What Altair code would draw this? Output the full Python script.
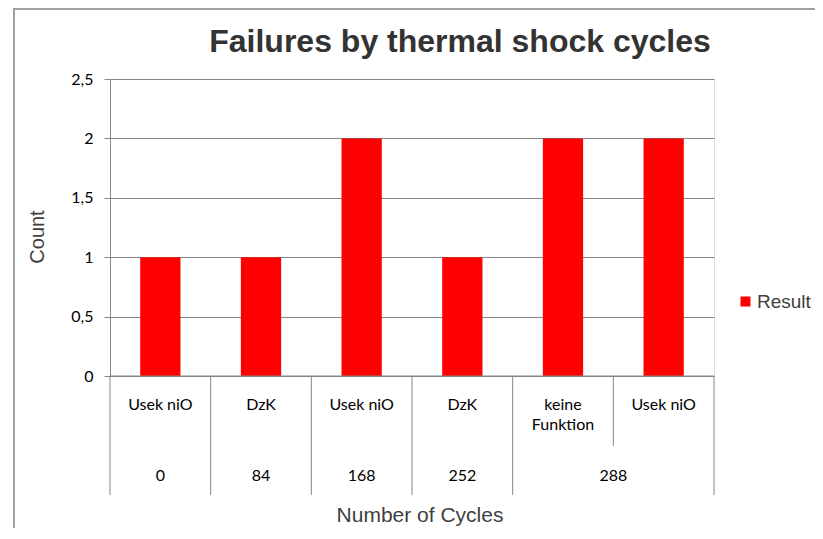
import altair as alt
import pandas as pd

# ---- data ----
failure_types = ["Usek niO", "DzK", "Usek niO", "DzK", "keine\nFunktion", "Usek niO"]
counts = [1, 1, 2, 1, 2, 2]
cycle_of_bar = ["0", "84", "168", "252", "288", "288"]
series_name = "Result"
title_text = "Failures by thermal shock cycles"
x_title = "Number of Cycles"
y_title = "Count"
y_ticks = [0, 0.5, 1, 1.5, 2, 2.5]

# ---- derived tables ----
n = len(counts)
bars = pd.DataFrame({
    "i": list(range(n)),
    "x0": [i + 0.3 for i in range(n)],
    "x1": [i + 0.7 for i in range(n)],
    "count": counts,
    "type": failure_types,
    "xc": [i + 0.5 for i in range(n)],
    "series": [series_name] * n,
})

# cycle groups
groups = []
for i, c in enumerate(cycle_of_bar):
    if groups and groups[-1]["label"] == c:
        groups[-1]["end"] = i + 1
    else:
        groups.append({"label": c, "start": i, "end": i + 1})
grp = pd.DataFrame({
    "label": [g["label"] for g in groups],
    "xc": [(g["start"] + g["end"]) / 2 for g in groups],
})
outer_b = sorted(set([g["start"] for g in groups] + [g["end"] for g in groups]))
all_b = list(range(n + 1))
inner_b = [b for b in all_b if b not in outer_b]
seps_outer = pd.DataFrame({"b": outer_b})
seps_inner = pd.DataFrame({"b": inner_b})

W, H = 604, 297
GRAY = "#868686"
LBL_FONT = "Lato"
LBL_SIZE = 16

xscale = alt.Scale(domain=[0, n], nice=False, zero=False)
yscale = alt.Scale(domain=[0, 2.5], nice=False)

base = alt.Chart(bars)

bar_layer = base.mark_rect(color="#FF0000").encode(
    x=alt.X("x0:Q", scale=xscale, axis=None),
    x2="x1:Q",
    y=alt.Y("count:Q", scale=yscale,
            axis=alt.Axis(values=y_ticks, title=None, grid=True, gridColor=GRAY,
                          domainColor=GRAY, tickColor=GRAY, tickSize=6,
                          labelPadding=11, labelFont=LBL_FONT, labelFontSize=LBL_SIZE,
                          labelColor="#000000",
                          labelExpr="replace(format(datum.value, '~g'), '.', ',')")),
    y2=alt.datum(0),
    color=alt.Color("series:N", scale=alt.Scale(range=["#FF0000"]),
                    legend=alt.Legend(title=None, orient="none", legendX=626, legendY=213,
                                      symbolType="square", symbolSize=100,
                                      symbolStrokeWidth=0, labelLimit=400,
                                      labelFont="Liberation Sans", labelFontSize=19,
                                      labelColor="#404040", labelOffset=2)),
)

xaxis_line = alt.Chart(pd.DataFrame({"a": [0], "b": [n]})).mark_rule(color=GRAY).encode(
    x=alt.X("a:Q", scale=xscale), x2="b:Q", y=alt.value(H))

outer_sep = alt.Chart(seps_outer).mark_rule(color=GRAY).encode(
    x=alt.X("b:Q", scale=xscale), y=alt.value(H), y2=alt.value(H + 119))
inner_sep = alt.Chart(seps_inner).mark_rule(color=GRAY).encode(
    x=alt.X("b:Q", scale=xscale), y=alt.value(H), y2=alt.value(H + 70))

type_text = base.mark_text(font=LBL_FONT, fontSize=LBL_SIZE, color="#000000",
                           baseline="middle", lineBreak="\n", lineHeight=20).encode(
    x=alt.X("xc:Q", scale=xscale), y=alt.value(H + 29), text="type:N")

cycle_text = alt.Chart(grp).mark_text(font=LBL_FONT, fontSize=LBL_SIZE, color="#000000",
                                      baseline="middle").encode(
    x=alt.X("xc:Q", scale=xscale), y=alt.value(H + 100), text="label:N")

title_df = pd.DataFrame({"t": [title_text]})
title_layer = alt.Chart(title_df).mark_text(font="Liberation Sans", fontSize=32,
                                            fontWeight="bold", color="#333333",
                                            baseline="middle").encode(
    x=alt.value(350), y=alt.value(-37), text="t:N")

xt_df = pd.DataFrame({"t": [x_title]})
xtitle_layer = alt.Chart(xt_df).mark_text(font="Liberation Sans", fontSize=21,
                                          color="#404040", baseline="middle").encode(
    x=alt.value(310), y=alt.value(H + 140), text="t:N")

yt_df = pd.DataFrame({"t": [y_title]})
ytitle_layer = alt.Chart(yt_df).mark_text(font="Liberation Sans", fontSize=20,
                                          color="#404040", baseline="middle",
                                          angle=270).encode(
    x=alt.value(-72), y=alt.value(158), text="t:N")

frame_top = alt.Chart(title_df).mark_rule(color="#A0A0A0", strokeWidth=2).encode(
    x=alt.value(-96), x2=alt.value(705), y=alt.value(-70))
frame_left = alt.Chart(title_df).mark_rule(color="#A0A0A0", strokeWidth=2).encode(
    x=alt.value(-96), y=alt.value(-71), y2=alt.value(H + 160))

chart = alt.layer(
    frame_top, frame_left, bar_layer, xaxis_line, outer_sep, inner_sep,
    type_text, cycle_text, title_layer, xtitle_layer, ytitle_layer,
).properties(
    width=W, height=H,
    autosize=alt.AutoSizeParams(type="none"),
    padding={"left": 102, "top": 71, "right": 101, "bottom": 152},
).configure_view(stroke=None).configure(background="white")

chart.save("out.html", embed_options={"renderer": "svg", "actions": False})
